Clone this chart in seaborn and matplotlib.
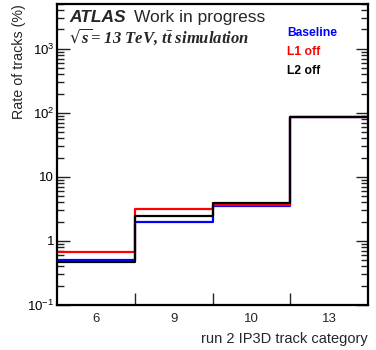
import numpy as np
import pandas as pd
import matplotlib
matplotlib.use("Agg")
import matplotlib.pyplot as plt
import matplotlib.ticker as mticker
import seaborn as sns

categories = ["6", "9", "10", "13"]
baseline = [0.50, 1.96, 3.55, 85.0]
l1_off = [0.68, 3.16, 3.69, 85.5]
l2_off = [0.47, 2.45, 3.90, 87.0]
series_names = ["Baseline", "L1 off", "L2 off"]
series_colors = ["#0000ff", "#ff0000", "#000000"]
ytick_values = [0.1, 1, 10, 100, 1000]
ytick_labels = [r"$10^{-1}$", "1", "10", r"$10^{2}$", r"$10^{3}$"]

sns.set_style("ticks")
plt.rcParams["font.family"] = ["Liberation Sans", "DejaVu Sans"]
plt.rcParams["mathtext.default"] = "regular"

fig = plt.figure(figsize=(3.76, 3.5), dpi=100)
ax = fig.add_axes([57 / 376, 1 - 305 / 350, (368 - 57) / 376, (305 - 4) / 350])

pos = np.arange(len(categories))
edges = (np.arange(len(categories) + 1) - 0.5).tolist()
for name, vals, col in zip(series_names, [baseline, l1_off, l2_off], series_colors):
    df = pd.DataFrame({"cat": pos, "rate": vals})
    sns.histplot(data=df, x="cat", weights="rate", bins=edges, element="step",
                 fill=False, color=col, linewidth=1.6, ax=ax)

ax.set_yscale("log")
ax.set_ylim(0.1, 5000)
ax.set_xlim(-0.5, len(categories) - 0.5)

ax.yaxis.set_major_locator(mticker.FixedLocator(ytick_values))
ax.yaxis.set_major_formatter(mticker.FixedFormatter(ytick_labels))
ax.yaxis.set_minor_locator(mticker.LogLocator(base=10, subs=np.arange(2, 10)))
ax.yaxis.set_minor_formatter(mticker.NullFormatter())

ax.xaxis.set_major_locator(mticker.FixedLocator(edges[1:-1]))
ax.xaxis.set_major_formatter(mticker.NullFormatter())
ax.xaxis.set_minor_locator(mticker.FixedLocator(pos))
ax.xaxis.set_minor_formatter(mticker.FixedFormatter(categories))

ax.tick_params(axis="y", which="major", direction="in", length=9, width=1.0,
               left=True, right=True, labelsize=9.5, pad=2, colors="#222222", labelcolor="black")
ax.tick_params(axis="y", which="minor", direction="in", length=5, width=1.0,
               left=True, right=True, colors="#222222")
ax.tick_params(axis="x", which="major", direction="in", length=9, width=1.0, bottom=True, top=False)
ax.tick_params(axis="x", which="minor", length=0, labelsize=9.5, pad=6)

for sp in ax.spines.values():
    sp.set_linewidth(1.6)
    sp.set_color("black")
    sp.set_visible(True)

ax.set_xlabel("run 2 IP3D track category", fontsize=10.5, ha="right", x=1.0)
ax.set_ylabel("Rate of tracks (%)", fontsize=10.3, ha="right", y=1.0)
ax.xaxis.set_label_coords(1.0, -0.09)
ax.yaxis.set_label_coords(-0.10, 1.0)

fig.text(69 / 376, 1 - 22 / 350, "ATLAS", fontsize=12.5, fontweight="bold", fontstyle="italic")
fig.text(134 / 376, 1 - 22 / 350, "Work in progress", fontsize=12.5)
fig.text(69 / 376, 1 - 43 / 350, r"$\sqrt{s}$= 13 TeV, t$\bar{t}$ simulation",
         fontsize=12, fontweight="bold", fontstyle="italic", family=["Liberation Serif", "DejaVu Serif"])

for i, (name, col) in enumerate(zip(series_names, series_colors)):
    fig.text(287 / 376, 1 - (36 + 19 * i) / 350, name, color=col, fontsize=8.7, fontweight="bold")

fig.savefig("out.png", dpi=100)
